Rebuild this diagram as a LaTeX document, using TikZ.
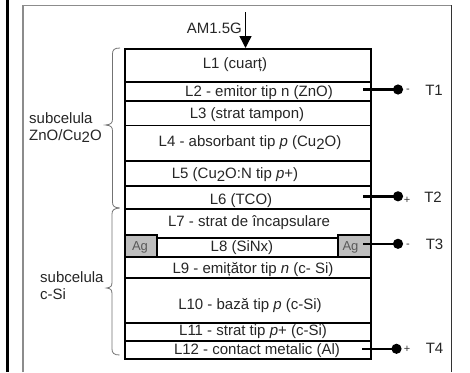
\documentclass[tikz,border=0pt]{standalone}
\usepackage{fontspec}
\setmainfont{Liberation Sans}
\usepackage{xcolor}
\usetikzlibrary{arrows.meta,positioning,calc}
\definecolor{framegray}{HTML}{8C8C8C}
\definecolor{silver}{HTML}{BEBEBE}
\newcommand{\subtwo}{\raisebox{-0.35ex}{2}}
\tikzset{
  layer/.style={draw=black, line width=1.7pt, minimum width=246pt, anchor=north west, inner sep=0pt},
  ltext/.style={inner sep=0pt, yshift=-1.6pt, font=\fontsize{15pt}{15pt}\selectfont, text=black!85},
  agbox/.style={draw=black, line width=1.7pt, fill=silver, inner sep=0pt},
  agtext/.style={inner sep=0pt, yshift=-1pt, font=\fontsize{13pt}{13pt}\selectfont, text=black!65},
  lead/.style={line width=2.4pt, -{Circle[length=10pt,width=10pt]}},
  curly/.style={draw=black!55, line width=0.8pt},
  side/.style={inner sep=0pt, font=\fontsize{15pt}{17pt}\selectfont, text=black!85, align=left, anchor=west},
  term/.style={inner sep=0pt, font=\fontsize{15pt}{15pt}\selectfont, text=black!85},
  sign/.style={inner sep=0pt, font=\fontsize{11pt}{11pt}\selectfont, text=black!80}
}
\begin{document}
\begin{tikzpicture}[x=1pt,y=-1pt]
  \useasboundingbox (0,0) rectangle (470,372);
  \fill[white] (0,0) rectangle (470,372);
  % --- Frame ---
  \draw[line width=2.6pt] (7.5,0) -- (7.5,372);
  \draw[framegray, line width=1.6pt] (23,372) -- (23,5.5) -- (451.5,5.5);
  \draw[black!80, line width=1pt] (451.5,5) -- (451.5,372);

  % --- Layers, top to bottom ---
  \node[layer, minimum height=33pt] (l1) at (124,48) {};
  \node[layer, minimum height=19pt] (l2) at (124,81) {};
  \node[layer, minimum height=24.5pt] (l3) at (124,100) {};
  \node[layer, minimum height=35.5pt] (l4) at (124,124.5) {};
  \node[layer, minimum height=25pt] (l5) at (124,160) {};
  \node[layer, minimum height=23pt] (l6) at (124,185) {};
  \node[layer, minimum height=29pt] (l7) at (124,208) {};
  \node[layer, minimum height=19pt] (l8) at (124,237) {};
  \node[layer, minimum height=21pt] (l9) at (124,256) {};
  \node[layer, minimum height=45pt] (l10) at (124,277) {};
  \node[layer, minimum height=18pt] (l11) at (124,322) {};
  \node[layer, minimum height=18pt] (l12) at (124,340) {};

  % Silver contacts at both ends of L8
  \node[agbox, minimum width=32pt, minimum height=22pt, anchor=south west] (agl) at (l8.south west) {};
  \node[agbox, minimum width=33pt, minimum height=22pt, anchor=south east] (agr) at (l8.south east) {};
  \node[agtext] (agltxt) at (140,246) {Ag};
  \node[agtext] (agrtxt) at (350.5,246) {Ag};

  % Layer labels
  \node[ltext] (l1txt) at (235,63) {L1 (cuarț)};
  \node[ltext] (l2txt) at (259,91) {L2 - emitor tip n (ZnO)};
  \node[ltext] (l3txt) at (247,113) {L3 (strat tampon)};
  \node[ltext] (l4txt) at (250,141) {L4 - absorbant tip \textit{p} (Cu\subtwo O)};
  \node[ltext] (l5txt) at (235,173) {L5 (Cu\subtwo O:N tip \textit{p}+)};
  \node[ltext] (l6txt) at (241,199) {L6 (TCO)};
  \node[ltext] (l7txt) at (249,221) {L7 - strat de încapsulare};
  \node[ltext] (l8txt) at (242,246) {L8 (SiNx)};
  \node[ltext] (l9txt) at (253,268) {L9 - emițător tip \textit{n} (c- Si)};
  \node[ltext] (l10txt) at (250,304) {L10 - bază tip \textit{p} (c-Si)};
  \node[ltext] (l11txt) at (253,330) {L11 - strat tip \textit{p}+ (c-Si)};
  \node[ltext] (l12txt) at (257,349) {L12 - contact metalic (Al)};

  % Incident light
  \coordinate (sun) at (245.5,12);
  \draw[line width=1.4pt, -{Triangle[length=12pt,width=12pt]}] (sun) -- (sun |- l1.north);
  \node[term, anchor=east] (am) at (242,28) {AM1.5G};

  % --- Terminals ---
  \coordinate (a1) at (363,89.5);
  \coordinate (a2) at (363,196.3);
  \coordinate (a3) at (363,243.8);
  \coordinate (a4) at (362,348.8);
  \coordinate (t1) at (403,89.5);
  \coordinate (t2) at (403,196.3);
  \coordinate (t3) at (403,243.8);
  \coordinate (t4) at (401.5,348.8);
  \draw[lead] (a1) -- (t1);
  \draw[lead] (a2) -- (t2);
  \draw[lead] (a3) -- (t3);
  \draw[lead] (a4) -- (t4);
  \node[sign] (m1) at (408,90.5) {-};
  \node[sign] (p2) at (407,200.5) {+};
  \node[sign] (m3) at (408,245.5) {-};
  \node[sign] (p4) at (407,349.5) {+};
  \node[term] (nt1) at (434,90) {T1};
  \node[term] (nt2) at (433,197) {T2};
  \node[term] (nt3) at (434.5,244.5) {T3};
  \node[term] (nt4) at (434.5,348) {T4};

  % --- Sub-cell braces ---
  \draw[curly] (120,48) .. controls (114,48) and (112.5,50) .. (112.5,54) -- (112.5,119) .. controls (112.5,123) and (111,124.5) .. (105.5,125) .. controls (111,125.5) and (112.5,127) .. (112.5,131) -- (112.5,202) .. controls (112.5,206) and (114,207.5) .. (119.5,208);
  \draw[curly] (119.5,208) .. controls (114,208.5) and (112,210) .. (112,214) -- (112,282) .. controls (112,286) and (111,287.5) .. (106.5,288) .. controls (111,288.5) and (112,290) .. (112,294) -- (112,349) .. controls (112,353) and (114,355) .. (119.5,355);
  \node[side] (sub1) at (29,127.5) {subcelula\\ZnO/Cu\subtwo O};
  \node[side] (sub2) at (40,285.5) {subcelula\\c-Si};
\end{tikzpicture}
\end{document}
